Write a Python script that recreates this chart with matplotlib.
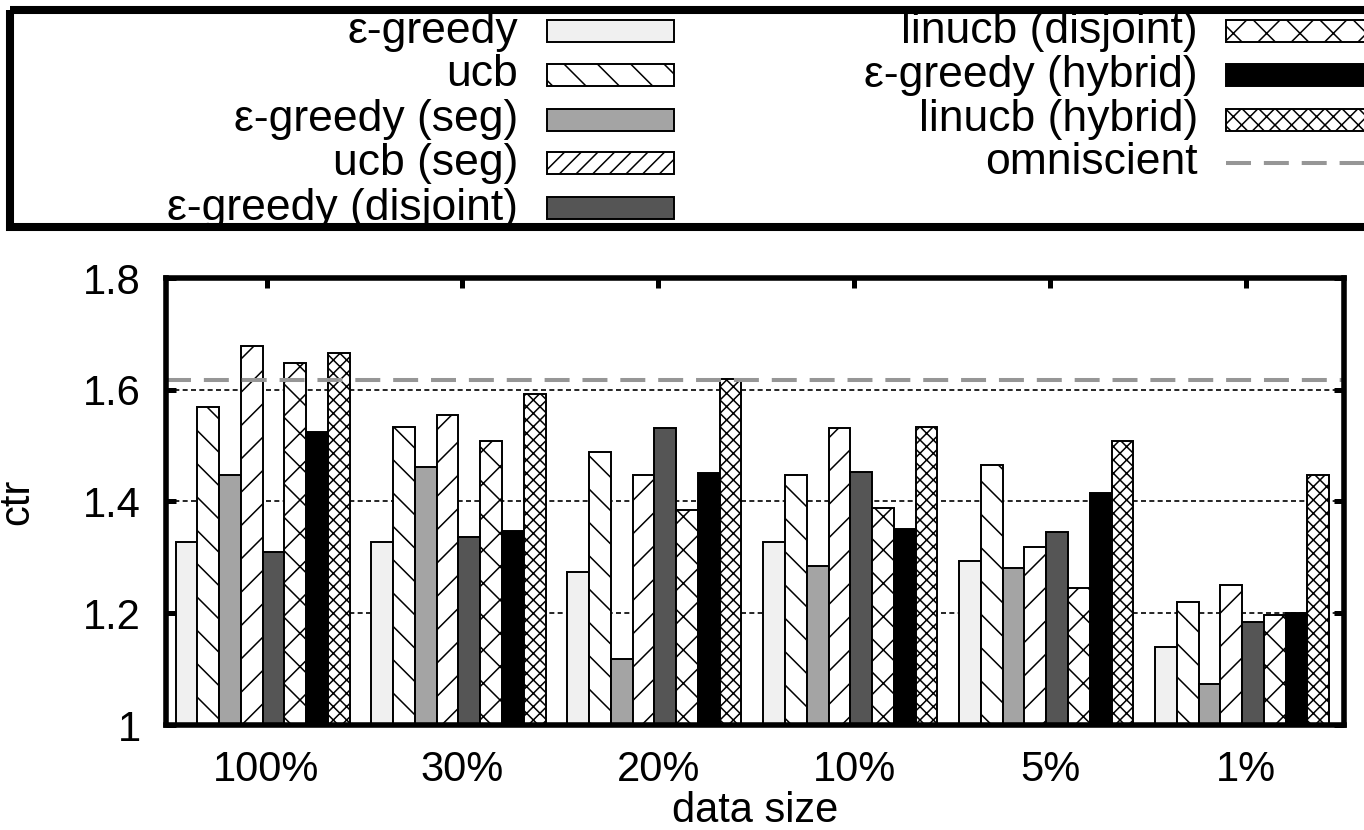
import numpy as np
import matplotlib
matplotlib.use("Agg")
import matplotlib.pyplot as plt
from matplotlib.patches import Rectangle
from matplotlib.lines import Line2D

plt.rcParams["font.family"] = ["Liberation Sans", "DejaVu Sans"]
plt.rcParams["hatch.linewidth"] = 0.55

sizes = ["100%", "30%", "20%", "10%", "5%", "1%"]

eps_greedy      = [1.327, 1.327, 1.273, 1.327, 1.293, 1.139]
ucb             = [1.569, 1.534, 1.488, 1.447, 1.466, 1.220]
eps_seg         = [1.447, 1.462, 1.119, 1.285, 1.281, 1.073]
ucb_seg         = [1.679, 1.554, 1.447, 1.531, 1.319, 1.250]
eps_disjoint    = [1.310, 1.337, 1.531, 1.452, 1.346, 1.185]
linucb_disjoint = [1.647, 1.508, 1.384, 1.388, 1.246, 1.196]
eps_hybrid      = [1.524, 1.347, 1.451, 1.350, 1.416, 1.200]
linucb_hybrid   = [1.666, 1.593, 1.619, 1.534, 1.508, 1.447]
omniscient      = 1.618

# label, values, fill, hatch on bars, hatch in key
series = [
    ("ε-greedy",            eps_greedy,      "#f0f0f0", None,    None),
    ("ucb",                 ucb,             "white",   "\\\\",  "\\\\"),
    ("ε-greedy (seg)",      eps_seg,         "#a4a4a4", None,    None),
    ("ucb (seg)",           ucb_seg,         "white",   "//",    "////"),
    ("ε-greedy (disjoint)", eps_disjoint,    "#555555", None,    None),
    ("linucb (disjoint)",   linucb_disjoint, "white",   "xx",    "xx"),
    ("ε-greedy (hybrid)",   eps_hybrid,      "black",   None,    None),
    ("linucb (hybrid)",     linucb_hybrid,   "white",   "xxxxx", "xxxx"),
]

W, H = 1364, 830
DPI = 200
fig = plt.figure(figsize=(W / DPI, H / DPI), dpi=DPI)
ax = fig.add_axes([166 / W, 1 - 725 / H, (1344 - 166) / W, (725 - 278) / H])

x = np.arange(len(sizes))
bw = 1 / 9
for j, (label, vals, color, hatch, _) in enumerate(series):
    ax.bar(x + (j - 3.5) * bw - 0.02, vals, width=bw, bottom=0, color=color,
           hatch=hatch, edgecolor="black", linewidth=0.7, zorder=2)

ax.axhline(omniscient, color="#969696", lw=1.45, dashes=(6.2, 3.2), zorder=4)

ax.set_xlim(-0.513, 5.5)
ax.set_ylim(1, 1.8)
ax.set_yticks([1, 1.2, 1.4, 1.6, 1.8])
ax.set_yticklabels(["1", "1.2", "1.4", "1.6", "1.8"])
ax.set_xticks(x)
ax.set_xticklabels(sizes)
for yv in [1.2, 1.4, 1.6]:
    ax.axhline(yv, color="black", lw=0.6, dashes=(3, 2), zorder=1)

ax.tick_params(axis="y", direction="in", length=3.6, width=1.8, left=True, right=True,
               labelsize=15, pad=9)
ax.tick_params(axis="x", direction="in", length=3.6, width=1.8, top=True, bottom=False,
               labelsize=15, pad=9)
for s in ax.spines.values():
    s.set_linewidth(2.0)
    s.set_zorder(5)

ax.set_ylabel("ctr", fontsize=15)
ax.yaxis.set_label_coords(-0.109, 0.5)
ax.set_xlabel("data size", fontsize=15, labelpad=0.5)

# key box above the plot
lg = fig.add_axes([0, 0, 1, 1])
lg.set_xlim(0, W)
lg.set_ylim(H, 0)
lg.axis("off")

rows = [31, 75, 120, 163, 208]
cols = [(518, 547, 674), (1198, 1226, 1400)]
for k, (label, vals, color, _, khatch) in enumerate(series):
    c = 0 if k < 5 else 1
    r = k if k < 5 else k - 5
    tx, sx0, sx1 = cols[c]
    yc = rows[r]
    lg.text(tx, yc, label, ha="right", va="center", fontsize=16, zorder=2)
    lg.add_patch(Rectangle((sx0, yc - 11), sx1 - sx0, 22, facecolor=color, hatch=khatch,
                           edgecolor="black", linewidth=0.7, clip_on=False, zorder=2))
tx, sx0, sx1 = cols[1]
lg.text(tx, rows[3], "omniscient", ha="right", va="center", fontsize=16, zorder=2)
lg.add_line(Line2D([sx0, sx1], [rows[3], rows[3]], color="#969696", lw=1.45,
                   dashes=(6.2, 3.2), clip_on=False))
lg.add_patch(Rectangle((10, 10), 1400, 217, facecolor="none", edgecolor="black",
                       linewidth=2.9, clip_on=False, zorder=5))

fig.savefig("out.png", dpi=DPI)
